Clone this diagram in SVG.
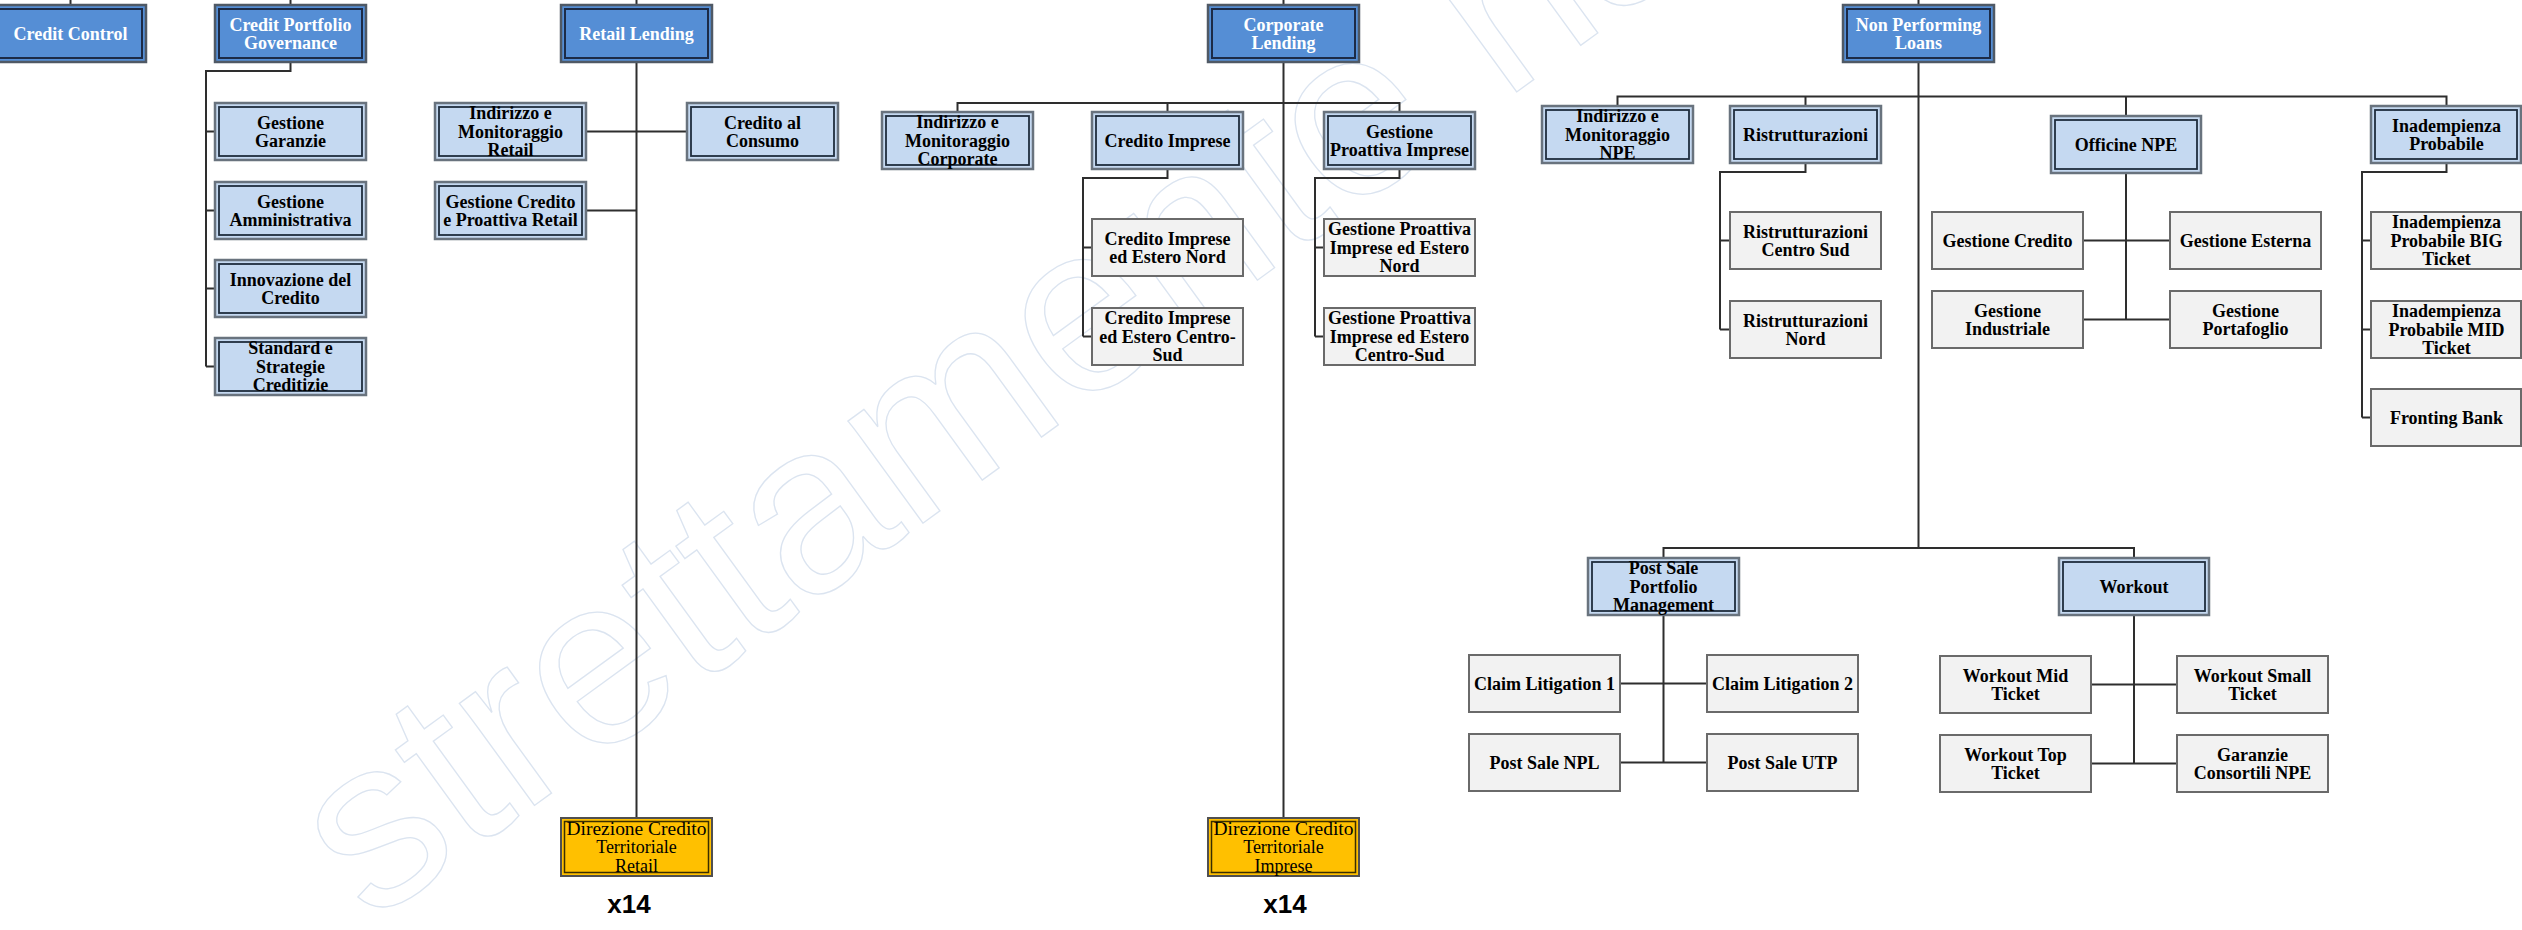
<svg xmlns="http://www.w3.org/2000/svg" width="2522" height="930" viewBox="0 0 2522 930">
<style>
  .bg{fill:#ffffff}
  text{font-family:"Liberation Serif","Times New Roman",serif;text-anchor:middle}
  text.wm{fill:none;stroke:#dbe4f0;stroke-width:1.3;font-family:"Liberation Sans",Arial,sans-serif;font-size:240px;text-anchor:start}
  .dk{fill:#558ED5;stroke:#4f5965;stroke-width:2.5}
  .dki{fill:none;stroke:#1c2b47;stroke-width:2}
  .lt{fill:#C5D9F1;stroke:#69737e;stroke-width:2.5}
  .lti{fill:none;stroke:#1f2d3d;stroke-width:1.8}
  .gr{fill:#F2F2F2;stroke:#6a6a6a;stroke-width:2}
  .gd{fill:#FFC000;stroke:#505050;stroke-width:2}
  .gdi{fill:none;stroke:#3a2e00;stroke-width:1.5}
  .tw{fill:#ffffff;font-size:18px;font-weight:bold}
  .tb{fill:#000000;font-size:18px;font-weight:bold}
  .tr{fill:#000000;font-size:18px}
  text.x{font-family:"Liberation Sans",Arial,sans-serif;font-size:26px;font-weight:bold;fill:#000}
  .cn{fill:none;stroke:#2e2e2e;stroke-width:2}
</style>
<rect class="bg" x="0" y="0" width="2522" height="930"/>
<text class="wm" transform="translate(370,925) rotate(-36)" x="0" y="0">strettamente riservato</text>

<g id="connectors">
  <path class="cn" d="M70.5,0V5 M290.5,0V5 M636.5,0V5 M1283.5,0V5 M1918.5,0V5"/>
  <path class="cn" d="M290.5,62V71H206V366.5 M206,131.5H215 M206,210.5H215 M206,288.5H215 M206,366.5H215"/>
  <path class="cn" d="M636.5,62V818 M586,131.5H687 M586,210.5H636.5"/>
  <path class="cn" d="M1283.5,62V818 M957.5,112V103H1399.5V112 M1167.5,103V112"/>
  <path class="cn" d="M1167.5,169V178H1083V336.5 M1083,247.5H1092 M1083,336.5H1092"/>
  <path class="cn" d="M1399.5,169V178H1315V336.5 M1315,247.5H1324 M1315,336.5H1324"/>
  <path class="cn" d="M1918.5,62V548 M1617.5,106V96.5H2446.5V106 M1805.5,96.5V106 M2126,96.5V116"/>
  <path class="cn" d="M1805.5,163V172H1720V329.5 M1720,240.5H1730 M1720,329.5H1730"/>
  <path class="cn" d="M2126,173V319.5 M2083,240.5H2170 M2083,319.5H2170"/>
  <path class="cn" d="M2446.5,163V172H2362V417.5 M2362,240.5H2371 M2362,329.5H2371 M2362,417.5H2371"/>
  <path class="cn" d="M1663.5,558V548H2134V558 M1663.5,615V762.5 M1620,683.5H1707 M1620,762.5H1707"/>
  <path class="cn" d="M2134,615V763.5 M2091,684.5H2177 M2091,763.5H2177"/>
</g>

<g id="credit-control"><rect class="dk" x="-5" y="5" width="151" height="57"/><rect class="dki" x="-1" y="9" width="143" height="49"/><text class="tw" x="70.5" y="39.8">Credit Control</text></g>
<g id="credit-portfolio-governance"><rect class="dk" x="215" y="5" width="151" height="57"/><rect class="dki" x="219" y="9" width="143" height="49"/><text class="tw" x="290.5" y="30.5">Credit Portfolio</text><text class="tw" x="290.5" y="49">Governance</text></g>
<g id="retail-lending"><rect class="dk" x="561" y="5" width="151" height="57"/><rect class="dki" x="565" y="9" width="143" height="49"/><text class="tw" x="636.5" y="39.8">Retail Lending</text></g>
<g id="corporate-lending"><rect class="dk" x="1208" y="5" width="151" height="57"/><rect class="dki" x="1212" y="9" width="143" height="49"/><text class="tw" x="1283.5" y="30.5">Corporate</text><text class="tw" x="1283.5" y="49">Lending</text></g>
<g id="non-performing-loans"><rect class="dk" x="1843" y="5" width="151" height="57"/><rect class="dki" x="1847" y="9" width="143" height="49"/><text class="tw" x="1918.5" y="30.5">Non Performing</text><text class="tw" x="1918.5" y="49">Loans</text></g>

<g id="gestione-garanzie"><rect class="lt" x="215" y="103" width="151" height="57"/><rect class="lti" x="219" y="107" width="143" height="49"/><text class="tb" x="290.5" y="128.5">Gestione</text><text class="tb" x="290.5" y="147">Garanzie</text></g>
<g id="gestione-amministrativa"><rect class="lt" x="215" y="182" width="151" height="57"/><rect class="lti" x="219" y="186" width="143" height="49"/><text class="tb" x="290.5" y="207.5">Gestione</text><text class="tb" x="290.5" y="226">Amministrativa</text></g>
<g id="innovazione-credito"><rect class="lt" x="215" y="260" width="151" height="57"/><rect class="lti" x="219" y="264" width="143" height="49"/><text class="tb" x="290.5" y="285.5">Innovazione del</text><text class="tb" x="290.5" y="304">Credito</text></g>
<g id="standard-strategie"><rect class="lt" x="215" y="338" width="151" height="57"/><rect class="lti" x="219" y="342" width="143" height="49"/><text class="tb" x="290.5" y="354.3">Standard e</text><text class="tb" x="290.5" y="372.8">Strategie</text><text class="tb" x="290.5" y="391.3">Creditizie</text></g>

<g id="indirizzo-retail"><rect class="lt" x="435" y="103" width="151" height="57"/><rect class="lti" x="439" y="107" width="143" height="49"/><text class="tb" x="510.5" y="119.3">Indirizzo e</text><text class="tb" x="510.5" y="137.8">Monitoraggio</text><text class="tb" x="510.5" y="156.3">Retail</text></g>
<g id="gestione-credito-retail"><rect class="lt" x="435" y="182" width="151" height="57"/><rect class="lti" x="439" y="186" width="143" height="49"/><text class="tb" x="510.5" y="207.5">Gestione Credito</text><text class="tb" x="510.5" y="226">e Proattiva Retail</text></g>
<g id="credito-consumo"><rect class="lt" x="687" y="103" width="151" height="57"/><rect class="lti" x="691" y="107" width="143" height="49"/><text class="tb" x="762.5" y="128.5">Credito al</text><text class="tb" x="762.5" y="147">Consumo</text></g>

<g id="indirizzo-corporate"><rect class="lt" x="882" y="112" width="151" height="57"/><rect class="lti" x="886" y="116" width="143" height="49"/><text class="tb" x="957.5" y="128.3">Indirizzo e</text><text class="tb" x="957.5" y="146.8">Monitoraggio</text><text class="tb" x="957.5" y="165.3">Corporate</text></g>
<g id="credito-imprese"><rect class="lt" x="1092" y="112" width="151" height="57"/><rect class="lti" x="1096" y="116" width="143" height="49"/><text class="tb" x="1167.5" y="146.8">Credito Imprese</text></g>
<g id="gestione-proattiva-imprese"><rect class="lt" x="1324" y="112" width="151" height="57"/><rect class="lti" x="1328" y="116" width="143" height="49"/><text class="tb" x="1399.5" y="137.5">Gestione</text><text class="tb" x="1399.5" y="156">Proattiva Imprese</text></g>
<g id="ci-estero-nord"><rect class="gr" x="1092" y="219" width="151" height="57"/><text class="tb" x="1167.5" y="244.5">Credito Imprese</text><text class="tb" x="1167.5" y="263">ed Estero Nord</text></g>
<g id="ci-estero-centro-sud"><rect class="gr" x="1092" y="308" width="151" height="57"/><text class="tb" x="1167.5" y="324.3">Credito Imprese</text><text class="tb" x="1167.5" y="342.8">ed Estero Centro-</text><text class="tb" x="1167.5" y="361.3">Sud</text></g>
<g id="gpi-estero-nord"><rect class="gr" x="1324" y="219" width="151" height="57"/><text class="tb" x="1399.5" y="235.3">Gestione Proattiva</text><text class="tb" x="1399.5" y="253.8">Imprese ed Estero</text><text class="tb" x="1399.5" y="272.3">Nord</text></g>
<g id="gpi-estero-centro-sud"><rect class="gr" x="1324" y="308" width="151" height="57"/><text class="tb" x="1399.5" y="324.3">Gestione Proattiva</text><text class="tb" x="1399.5" y="342.8">Imprese ed Estero</text><text class="tb" x="1399.5" y="361.3">Centro-Sud</text></g>

<g id="indirizzo-npe"><rect class="lt" x="1542" y="106" width="151" height="57"/><rect class="lti" x="1546" y="110" width="143" height="49"/><text class="tb" x="1617.5" y="122.3">Indirizzo e</text><text class="tb" x="1617.5" y="140.8">Monitoraggio</text><text class="tb" x="1617.5" y="159.3">NPE</text></g>
<g id="ristrutturazioni"><rect class="lt" x="1730" y="106" width="151" height="57"/><rect class="lti" x="1734" y="110" width="143" height="49"/><text class="tb" x="1805.5" y="140.8">Ristrutturazioni</text></g>
<g id="ristrutturazioni-centro-sud"><rect class="gr" x="1730" y="212" width="151" height="57"/><text class="tb" x="1805.5" y="237.5">Ristrutturazioni</text><text class="tb" x="1805.5" y="256">Centro Sud</text></g>
<g id="ristrutturazioni-nord"><rect class="gr" x="1730" y="301" width="151" height="57"/><text class="tb" x="1805.5" y="326.5">Ristrutturazioni</text><text class="tb" x="1805.5" y="345">Nord</text></g>

<g id="officine-npe"><rect class="lt" x="2051" y="116" width="150" height="57"/><rect class="lti" x="2055" y="120" width="142" height="49"/><text class="tb" x="2126" y="150.8">Officine NPE</text></g>
<g id="gestione-credito"><rect class="gr" x="1932" y="212" width="151" height="57"/><text class="tb" x="2007.5" y="246.8">Gestione Credito</text></g>
<g id="gestione-esterna"><rect class="gr" x="2170" y="212" width="151" height="57"/><text class="tb" x="2245.5" y="246.8">Gestione Esterna</text></g>
<g id="gestione-industriale"><rect class="gr" x="1932" y="291" width="151" height="57"/><text class="tb" x="2007.5" y="316.5">Gestione</text><text class="tb" x="2007.5" y="335">Industriale</text></g>
<g id="gestione-portafoglio"><rect class="gr" x="2170" y="291" width="151" height="57"/><text class="tb" x="2245.5" y="316.5">Gestione</text><text class="tb" x="2245.5" y="335">Portafoglio</text></g>

<g id="inadempienza-probabile"><rect class="lt" x="2371" y="106" width="150" height="57"/><rect class="lti" x="2375" y="110" width="142" height="49"/><text class="tb" x="2446.5" y="131.5">Inadempienza</text><text class="tb" x="2446.5" y="150">Probabile</text></g>
<g id="ip-big"><rect class="gr" x="2371" y="212" width="150" height="57"/><text class="tb" x="2446.5" y="228.3">Inadempienza</text><text class="tb" x="2446.5" y="246.8">Probabile BIG</text><text class="tb" x="2446.5" y="265.3">Ticket</text></g>
<g id="ip-mid"><rect class="gr" x="2371" y="301" width="150" height="57"/><text class="tb" x="2446.5" y="317.3">Inadempienza</text><text class="tb" x="2446.5" y="335.8">Probabile MID</text><text class="tb" x="2446.5" y="354.3">Ticket</text></g>
<g id="fronting-bank"><rect class="gr" x="2371" y="389" width="150" height="57"/><text class="tb" x="2446.5" y="423.8">Fronting Bank</text></g>

<g id="post-sale-pm"><rect class="lt" x="1588" y="558" width="151" height="57"/><rect class="lti" x="1592" y="562" width="143" height="49"/><text class="tb" x="1663.5" y="574.3">Post Sale</text><text class="tb" x="1663.5" y="592.8">Portfolio</text><text class="tb" x="1663.5" y="611.3">Management</text></g>
<g id="claim-litigation-1"><rect class="gr" x="1469" y="655" width="151" height="57"/><text class="tb" x="1544.5" y="689.8">Claim Litigation 1</text></g>
<g id="claim-litigation-2"><rect class="gr" x="1707" y="655" width="151" height="57"/><text class="tb" x="1782.5" y="689.8">Claim Litigation 2</text></g>
<g id="post-sale-npl"><rect class="gr" x="1469" y="734" width="151" height="57"/><text class="tb" x="1544.5" y="768.8">Post Sale NPL</text></g>
<g id="post-sale-utp"><rect class="gr" x="1707" y="734" width="151" height="57"/><text class="tb" x="1782.5" y="768.8">Post Sale UTP</text></g>

<g id="workout"><rect class="lt" x="2059" y="558" width="150" height="57"/><rect class="lti" x="2063" y="562" width="142" height="49"/><text class="tb" x="2134" y="592.8">Workout</text></g>
<g id="workout-mid"><rect class="gr" x="1940" y="656" width="151" height="57"/><text class="tb" x="2015.5" y="681.5">Workout Mid</text><text class="tb" x="2015.5" y="700">Ticket</text></g>
<g id="workout-small"><rect class="gr" x="2177" y="656" width="151" height="57"/><text class="tb" x="2252.5" y="681.5">Workout Small</text><text class="tb" x="2252.5" y="700">Ticket</text></g>
<g id="workout-top"><rect class="gr" x="1940" y="735" width="151" height="57"/><text class="tb" x="2015.5" y="760.5">Workout Top</text><text class="tb" x="2015.5" y="779">Ticket</text></g>
<g id="garanzie-consortili"><rect class="gr" x="2177" y="735" width="151" height="57"/><text class="tb" x="2252.5" y="760.5">Garanzie</text><text class="tb" x="2252.5" y="779">Consortili NPE</text></g>

<g id="direzione-retail"><rect class="gd" x="561" y="818" width="151" height="58"/><rect class="gdi" x="564.5" y="821.5" width="144" height="51"/><text class="tr" x="636.5" y="834.8" textLength="140" lengthAdjust="spacingAndGlyphs">Direzione Credito</text><text class="tr" x="636.5" y="853.3">Territoriale</text><text class="tr" x="636.5" y="871.8">Retail</text></g>
<g id="direzione-imprese"><rect class="gd" x="1208" y="818" width="151" height="58"/><rect class="gdi" x="1211.5" y="821.5" width="144" height="51"/><text class="tr" x="1283.5" y="834.8" textLength="140" lengthAdjust="spacingAndGlyphs">Direzione Credito</text><text class="tr" x="1283.5" y="853.3">Territoriale</text><text class="tr" x="1283.5" y="871.8">Imprese</text></g>
<text class="x" x="629" y="913">x14</text>
<text class="x" x="1285" y="913">x14</text>
</svg>
